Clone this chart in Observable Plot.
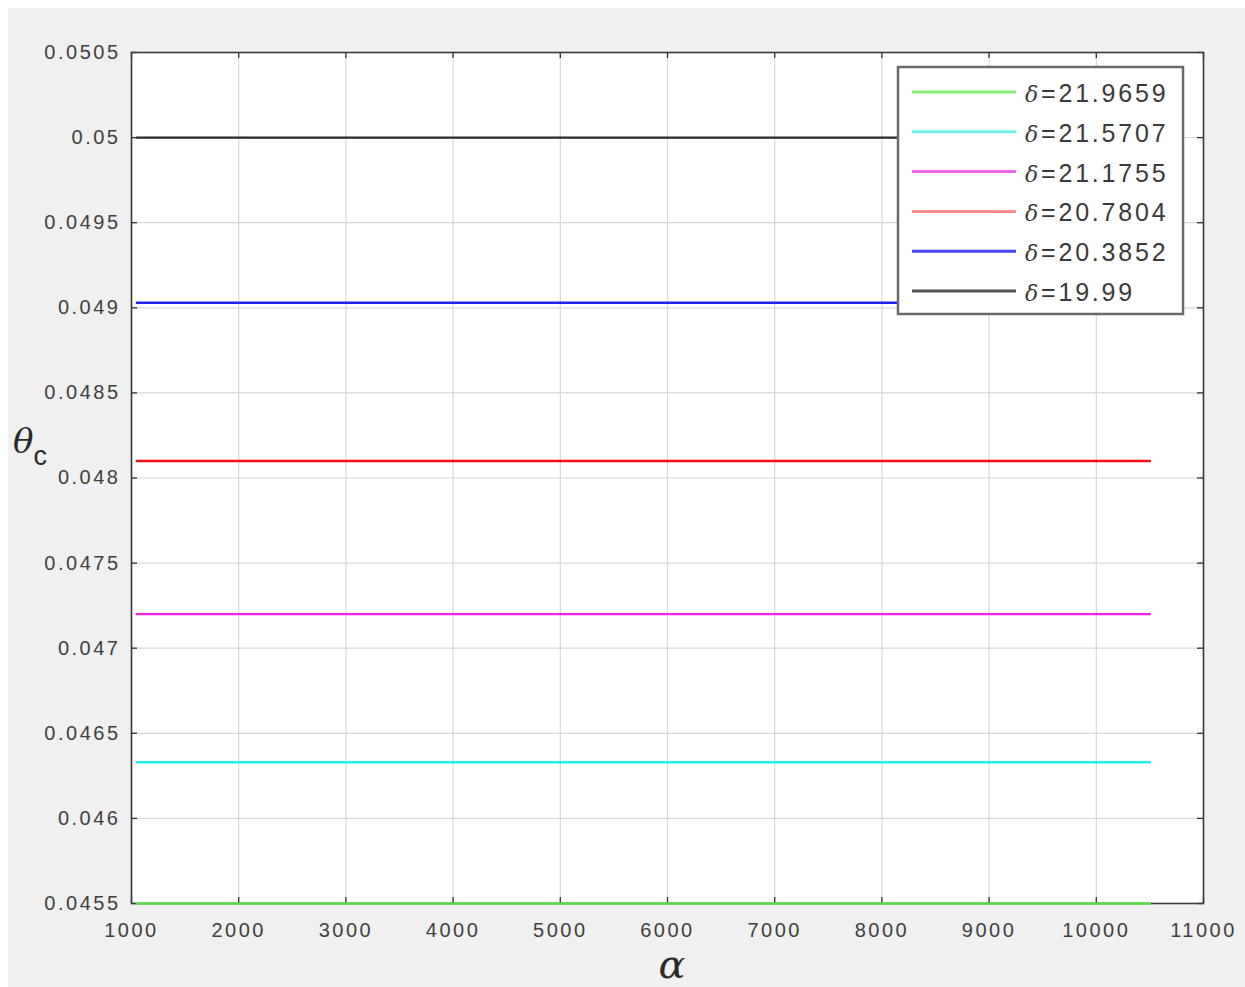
<!DOCTYPE html>
<html>
<head>
<meta charset="utf-8">
<script src="https://cdn.jsdelivr.net/npm/d3@7"></script>
<script src="https://cdn.jsdelivr.net/npm/@observablehq/plot@0.6"></script>
<style>
  html, body { margin: 0; padding: 0; background: #ffffff; }
  #wrap { width: 1245px; height: 987px; position: relative; background: #ffffff; }
  #chart { position: absolute; left: 8px; top: 8px; }
  #chart svg g[aria-label="x-axis tick label"] text,
  #chart svg g[aria-label="y-axis tick label"] text { letter-spacing: 2.5px; }
</style>
</head>
<body>
<div id="wrap"><div id="chart"></div></div>
<script>
// ---- data ----
const seriesNames = ["δ=21.9659", "δ=21.5707", "δ=21.1755", "δ=20.7804", "δ=20.3852", "δ=19.99"];
const seriesValues = [0.04550, 0.04633, 0.04720, 0.04810, 0.04903, 0.05000];
const seriesColors = ["#55dd44", "#22eeee", "#ee22ee", "#ee1111", "#2222ee", "#2a2a2a"];
const legendColors = ["#88ee77", "#77eeee", "#ee66ee", "#ff8f8f", "#4444ff", "#555555"];
const alphaStart = 1050;
const alphaEnd = 10500;
const xTicks = [1000, 2000, 3000, 4000, 5000, 6000, 7000, 8000, 9000, 10000, 11000];
const xTickLabels = ["1000", "2000", "3000", "4000", "5000", "6000", "7000", "8000", "9000", "10000", "11000"];
const yTicks = [0.0455, 0.046, 0.0465, 0.047, 0.0475, 0.048, 0.0485, 0.049, 0.0495, 0.05, 0.0505];
const yTickLabels = ["0.0455", "0.046", "0.0465", "0.047", "0.0475", "0.048", "0.0485", "0.049", "0.0495", "0.05", "0.0505"];

const lineData = [];
seriesNames.forEach((name, i) => {
  lineData.push({series: name, alpha: alphaStart, theta: seriesValues[i]});
  lineData.push({series: name, alpha: alphaEnd, theta: seriesValues[i]});
});

const W = 1237, H = 979;
const mL = 123, mR = 42, mT = 44, mB = 84;
const tickLen = 6;
const plotH = H - mT - mB;
const plotW = W - mL - mR;

const chart = Plot.plot({
  width: W,
  height: H,
  marginLeft: mL,
  marginRight: mR,
  marginTop: mT,
  marginBottom: mB,
  style: {background: "#f0f0f0", fontFamily: "'Liberation Sans', Arial, sans-serif", fontSize: "20px", color: "#404040"},
  x: {domain: [1000, 11000]},
  y: {domain: [0.0455, 0.0505]},
  color: {domain: seriesNames, range: seriesColors},
  marks: [
    Plot.frame({fill: "#ffffff", stroke: "none"}),
    Plot.gridX(xTicks, {stroke: "#d9d9d9", strokeOpacity: 1, strokeWidth: 1.2}),
    Plot.gridY(yTicks, {stroke: "#d9d9d9", strokeOpacity: 1, strokeWidth: 1.2}),
    Plot.tickX(xTicks, {x: d => d, stroke: "#333", strokeWidth: 1.3, insetTop: plotH - tickLen}),
    Plot.tickX(xTicks, {x: d => d, stroke: "#333", strokeWidth: 1.3, insetBottom: plotH - tickLen}),
    Plot.tickY(yTicks, {y: d => d, stroke: "#333", strokeWidth: 1.3, insetRight: plotW - tickLen}),
    Plot.tickY(yTicks, {y: d => d, stroke: "#333", strokeWidth: 1.3, insetLeft: plotW - tickLen}),
    Plot.frame({stroke: "#3a3a3a", strokeWidth: 1.6}),
    Plot.line(lineData, {x: "alpha", y: "theta", z: "series", stroke: "series", strokeWidth: 2.4}),
    Plot.axisX(xTicks, {tickSize: 0, tickPadding: 19, label: null, fill: "#404040", fontSize: 20,
      tickFormat: d => xTickLabels[xTicks.indexOf(d)]}),
    Plot.axisY(yTicks, {tickSize: 0, tickPadding: 11, label: null, fill: "#404040", fontSize: 20,
      tickFormat: d => yTickLabels[yTicks.indexOf(d)]})
  ]
});

document.getElementById("chart").appendChild(chart);

// axis labels and legend (offsets relative to the svg, which starts at 8,8 of the page)
const svg = d3.select(chart);
const off = 8;

// x label: alpha
svg.append("text")
  .attr("x", 672 - off).attr("y", 978 - off)
  .attr("text-anchor", "middle")
  .style("font-family", "'DejaVu Serif', 'Liberation Serif', serif")
  .style("font-style", "italic")
  .style("font-size", "40px")
  .style("fill", "#2a2a2a")
  .text("α");

// y label: theta_c
const yl = svg.append("text")
  .attr("x", 13 - off).attr("y", 453 - off)
  .attr("text-anchor", "start")
  .style("fill", "#2a2a2a");
yl.append("tspan")
  .style("font-family", "'DejaVu Serif', 'Liberation Serif', serif")
  .style("font-style", "italic")
  .style("font-size", "34px")
  .text("θ");
yl.append("tspan")
  .attr("dy", 12)
  .style("font-family", "'Liberation Sans', Arial, sans-serif")
  .style("font-size", "27px")
  .text("c");

// legend
const lg = svg.append("g").attr("transform", `translate(${898 - off},${67 - off})`);
lg.append("rect")
  .attr("x", 0).attr("y", 0).attr("width", 285).attr("height", 247)
  .attr("fill", "#ffffff").attr("stroke", "#6a6a6a").attr("stroke-width", 2.5);
seriesNames.forEach((name, i) => {
  const yy = 25 + i * 39.8;
  lg.append("line")
    .attr("x1", 14).attr("x2", 118).attr("y1", yy).attr("y2", yy)
    .attr("stroke", legendColors[i]).attr("stroke-width", 3);
  const t = lg.append("text")
    .attr("x", 127).attr("y", yy + 10)
    .attr("text-anchor", "start")
    .style("font-family", "'Liberation Sans', Arial, sans-serif")
    .style("font-size", "25px")
    .style("letter-spacing", "2.8px")
    .style("fill", "#3a3a3a");
  t.append("tspan")
    .style("font-family", "'DejaVu Serif', 'Liberation Serif', serif")
    .style("font-style", "italic")
    .style("font-size", "22px")
    .text(name.slice(0, 1));
  t.append("tspan").text(name.slice(1));
});
</script>
</body>
</html>
